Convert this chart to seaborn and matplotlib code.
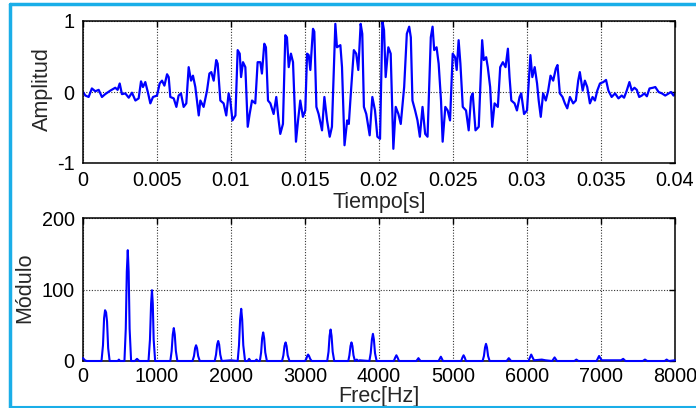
import matplotlib
matplotlib.use("Agg")
import matplotlib.pyplot as plt
from matplotlib.lines import Line2D
import seaborn as sns
import pandas as pd

# ---- time signal (ms, amplitude) ----
time_ms = [0.0, 0.16, 0.38, 0.6, 0.83, 1.06, 1.28, 1.5, 1.85, 2.18, 2.34, 2.48, 2.63, 2.86,
           3.09, 3.31, 3.54, 3.76, 3.92, 4.05, 4.21, 4.39, 4.55, 4.73, 5.0, 5.18, 5.34, 5.5,
           5.68, 5.79, 5.9, 6.13, 6.31, 6.46, 6.62, 6.8, 6.98, 7.14, 7.3, 7.43, 7.59, 7.82,
           7.93, 8.15, 8.38, 8.54, 8.67, 8.83, 9.0, 9.1, 9.28, 9.5, 9.68, 9.84, 9.95, 10.1,
           10.3, 10.45, 10.59, 10.68, 10.81, 10.97, 11.13, 11.26, 11.42, 11.64, 11.8, 11.98,
           12.09, 12.25, 12.36, 12.5, 12.66, 12.88, 13.06, 13.22, 13.33, 13.51, 13.67, 13.78,
           13.9, 14.05, 14.19, 14.39, 14.53, 14.68, 14.86, 15.02, 15.14, 15.25, 15.36, 15.54,
           15.63, 15.77, 15.92, 16.15, 16.31, 16.49, 16.67, 16.82, 17.05, 17.16, 17.39, 17.5,
           17.67, 17.85, 17.96, 18.08, 18.3, 18.46, 18.6, 18.76, 18.87, 18.98, 19.14, 19.37,
           19.55, 19.73, 19.89, 20.07, 20.23, 20.34, 20.45, 20.63, 20.79, 20.97, 21.13, 21.31,
           21.47, 21.7, 21.88, 22.04, 22.15, 22.26, 22.44, 22.6, 22.76, 22.94, 23.12, 23.28,
           23.5, 23.62, 23.73, 23.89, 24.03, 24.19, 24.3, 24.48, 24.64, 24.8, 24.98, 25.14,
           25.25, 25.38, 25.5, 25.66, 25.88, 26.06, 26.22, 26.33, 26.52, 26.74, 26.97, 27.08,
           27.24, 27.35, 27.51, 27.65, 27.81, 28.03, 28.19, 28.37, 28.55, 28.71, 28.82, 28.94,
           29.16, 29.32, 29.5, 29.61, 29.8, 30.0, 30.23, 30.36, 30.52, 30.68, 30.79, 30.93,
           31.09, 31.27, 31.43, 31.59, 31.77, 31.95, 32.06, 32.22, 32.4, 32.56, 32.72, 32.9,
           33.12, 33.3, 33.46, 33.57, 33.76, 33.91, 34.07, 34.25, 34.43, 34.59, 34.75, 34.93,
           35.16, 35.34, 35.5, 35.72, 35.95, 36.18, 36.4, 36.56, 36.74, 36.92, 37.08, 37.26,
           37.42, 37.58, 37.76, 37.92, 38.1, 38.28, 38.51, 38.67, 38.89, 39.12, 39.34, 39.57,
           39.73, 39.9, 40.0]
amplitude = [0.0, -0.05, -0.07, 0.05, 0.01, 0.03, -0.07, -0.03, 0.02, 0.06, 0.03, 0.12, -0.03, -0.02,
             -0.08, -0.01, -0.12, -0.09, 0.15, 0.07, 0.14, -0.01, -0.16, -0.07, -0.05, 0.12, 0.16, 0.09,
             0.25, 0.21, -0.07, -0.09, -0.21, -0.05, -0.02, -0.21, -0.16, 0.35, 0.16, 0.23, 0.07, -0.33,
             -0.12, -0.21, 0.02, 0.26, 0.28, 0.16, 0.45, 0.4, -0.12, -0.16, -0.33, -0.02, -0.12, -0.40,
             -0.33, 0.59, 0.54, 0.21, 0.42, 0.35, -0.49, -0.31, -0.12, -0.16, 0.42, 0.42,
             0.26, 0.68, 0.63, -0.12, -0.16, -0.31, -0.07, -0.4, -0.59, -0.45, 0.8, 0.77,
             0.35, 0.54, 0.42, -0.7, -0.4, -0.12, -0.35, -0.26, 0.54, 0.52, 0.31, 0.89,
             0.85, -0.21, -0.31, -0.54, -0.07, -0.4, -0.63, -0.49, 0.96, 0.63, 0.66, 0.35,
             -0.75, -0.4, -0.45, -0.07, 0.59, 0.54, 0.31, 0.96, 0.82, -0.21, -0.31, -0.61,
             -0.07, -0.26, -0.63, -0.66, 1.0, 0.87, 0.21, 0.63, 0.54, -0.8, -0.21, -0.31,
             -0.45, 0.07, 0.82, 0.92, 0.77, -0.12, -0.26, -0.4, -0.63, -0.21, -0.59, -0.63,
             0.77, 0.92, 0.59, 0.63, 0.4, -0.12, -0.7, -0.21, -0.26, -0.4, 0.54, 0.49,
             0.31, 0.73, 0.4, -0.21, -0.26, -0.54, -0.07, -0.02, -0.54, -0.49, 0.73, 0.45,
             0.49, 0.35, 0.07, -0.49, -0.16, -0.21, 0.35, 0.42, 0.35, 0.61, 0.21, -0.12,
             -0.16, -0.26, -0.07, -0.02, -0.31, -0.26, 0.52, 0.21, 0.35, 0.12, -0.12, -0.35,
             -0.02, -0.12, 0.02, 0.23, 0.16, 0.33, 0.38, -0.02, -0.07, -0.16, -0.23, -0.07,
             -0.16, -0.12, 0.16, 0.28, 0.02, 0.16, 0.07, -0.16, -0.07, -0.12, 0.02, 0.12,
             0.14, 0.17, 0.02, -0.07, -0.02, -0.09, -0.05, -0.08, 0.02, 0.14, 0.02, 0.06,
             0.03, -0.07, -0.05, -0.02, -0.06, 0.05, 0.06, 0.07, 0.0, -0.02, -0.05, -0.02,
             0.0, -0.05, -0.02]

# ---- spectrum (Hz, module) ----
freq_hz = [0, 25, 50,
           250, 270, 285, 298, 312, 325, 340, 360,
           470, 485, 500,
           560, 578, 592, 605, 617, 630, 650,
           700, 730, 760,
           885, 905, 920, 932, 943, 955, 975,
           1180, 1198, 1213, 1227, 1240, 1255, 1275,
           1480, 1500, 1515, 1528, 1541, 1556, 1578,
           1780, 1798, 1813, 1827, 1840, 1855, 1875,
           2000,
           2090, 2108, 2123, 2138, 2151, 2166, 2190,
           2225, 2245, 2265, 2325, 2345, 2365,
           2390, 2407, 2421, 2435, 2448, 2463, 2485,
           2690, 2708, 2723, 2738, 2751, 2766, 2790,
           3000, 3018, 3030, 3042, 3055, 3070, 3090,
           3300, 3318, 3332, 3346, 3359, 3374, 3395,
           3585, 3600, 3615, 3628, 3641, 3655, 3675, 3700, 3720, 3740,
           3870, 3888, 3904, 3918, 3931, 3946, 3968,
           4200, 4220, 4235, 4250, 4270,
           4505, 4533, 4560,
           4805, 4836, 4865,
           5110, 5128, 5143, 5158, 5175,
           5400, 5418, 5433, 5446, 5459, 5474, 5495,
           5725, 5754, 5785,
           6020, 6040, 6057, 6075, 6095, 6200, 6250,
           6340, 6373, 6405,
           6640, 6667, 6695,
           6940, 6960, 6974, 6990, 7010,
           7270, 7300, 7330,
           7565, 7594, 7625,
           7860, 7887, 7915, 8000]
modulo = [4, 1, 0,
          0, 22, 60, 71, 68, 55, 18, 0,
          0, 2, 0,
          0, 45, 125, 155, 125, 45, 0,
          0, 3, 0,
          0, 30, 80, 99, 80, 30, 0,
          0, 14, 37, 46, 37, 14, 0,
          0, 7, 18, 22, 18, 7, 0,
          0, 9, 23, 28, 23, 9, 0,
          1,
          0, 22, 58, 73, 58, 22, 0,
          0, 3, 0, 0, 2, 0,
          0, 12, 32, 40, 32, 12, 0,
          0, 8, 21, 26, 21, 8, 0,
          0, 3, 7, 9, 7, 3, 0,
          0, 13, 35, 44, 35, 13, 0,
          0, 8, 21, 26, 21, 8, 0, 2, 0, 1,
          0, 11, 30, 38, 30, 11, 0,
          0, 5, 8, 5, 0,
          0, 4, 0,
          0, 6, 0,
          0, 5, 8, 5, 0,
          0, 7, 19, 24, 19, 7, 0,
          0, 4, 0,
          0, 5, 9, 5, 1, 2, 1,
          0, 5, 0,
          0, 2, 0,
          0, 4, 7, 4, 1,
          1, 3, 0,
          0, 2, 0,
          0, 2, 0, 1]

time_ticks = [0, 0.005, 0.01, 0.015, 0.02, 0.025, 0.03, 0.035, 0.04]
time_tick_labels = ["0", "0.005", "0.01", "0.015", "0.02", "0.025", "0.03", "0.035", "0.04"]
amp_ticks = [-1, 0, 1]
freq_ticks = [0, 1000, 2000, 3000, 4000, 5000, 6000, 7000, 8000]
mod_ticks = [0, 100, 200]

assert len(time_ms) == len(amplitude)
assert len(freq_hz) == len(modulo)

sns.set_style("white")
plt.rcParams["font.family"] = ["Liberation Sans", "DejaVu Sans"]

W, H = 696, 408
fig = plt.figure(figsize=(W / 100, H / 100), dpi=100)

def frac(l, t, r, b):
    return [l / W, 1 - b / H, (r - l) / W, (b - t) / H]

ax1 = fig.add_axes(frac(83, 21, 675, 163))
ax2 = fig.add_axes(frac(83, 218, 675, 361))

df_t = pd.DataFrame({"t": [v / 1000 for v in time_ms], "a": amplitude})
df_f = pd.DataFrame({"f": freq_hz, "m": modulo})

sns.lineplot(data=df_t, x="t", y="a", ax=ax1, color="#0000ff", linewidth=1.6,
             estimator=None, sort=False)
sns.lineplot(data=df_f, x="f", y="m", ax=ax2, color="#0000ff", linewidth=1.5,
             estimator=None, sort=False, clip_on=False, zorder=5)

FS_TICK = 14.3
FS_LAB = 15.5
for ax in (ax1, ax2):
    ax.grid(True, linestyle=(0, (1, 1.5)), color="#333333", linewidth=0.8)
    ax.set_axisbelow(True)
    for s in ax.spines.values():
        s.set_visible(True)
        s.set_color("black")
        s.set_linewidth(1.1)
    ax.tick_params(direction="in", length=4, width=1, top=True, right=True,
                   labelsize=FS_TICK, pad=6, colors="black")
ax2.tick_params(axis="x", pad=4.5)

ax1.set_xlim(0, 0.04)
ax1.set_ylim(-1, 1)
ax1.set_xticks(time_ticks)
ax1.set_xticklabels(time_tick_labels)
ax1.set_yticks(amp_ticks)
ax1.set_yticklabels([str(v) for v in amp_ticks])
ax1.set_xlabel("Tiempo[s]", fontsize=FS_LAB)
ax1.set_ylabel("Amplitud", fontsize=FS_LAB)
ax1.xaxis.set_label_coords(0.5, -0.205)
ax1.yaxis.set_label_coords(-0.051, 0.52)

ax2.set_xlim(0, 8000)
ax2.set_ylim(0, 200)
ax2.set_xticks(freq_ticks)
ax2.set_xticklabels([str(v) for v in freq_ticks])
ax2.set_yticks(mod_ticks)
ax2.set_yticklabels([str(v) for v in mod_ticks])
ax2.set_xlabel("Frec[Hz]", fontsize=FS_LAB)
ax2.set_ylabel("Módulo", fontsize=FS_LAB)
ax2.xaxis.set_label_coords(0.5, -0.175)
ax2.yaxis.set_label_coords(-0.081, 0.51)

# light-blue frame around the figure
bc = "#1aaee8"
fig.add_artist(Line2D([10 / W, 10 / W], [0, 1 - 4 / H], color=bc, linewidth=2.5,
                      transform=fig.transFigure))
fig.add_artist(Line2D([10 / W, 1], [1 - 4 / H, 1 - 4 / H], color=bc, linewidth=2.5,
                      transform=fig.transFigure))
fig.add_artist(Line2D([10 / W, 1], [1.2 / H, 1.2 / H], color=bc, linewidth=1.5,
                      transform=fig.transFigure))

fig.savefig("out.png", dpi=100, facecolor="white")
